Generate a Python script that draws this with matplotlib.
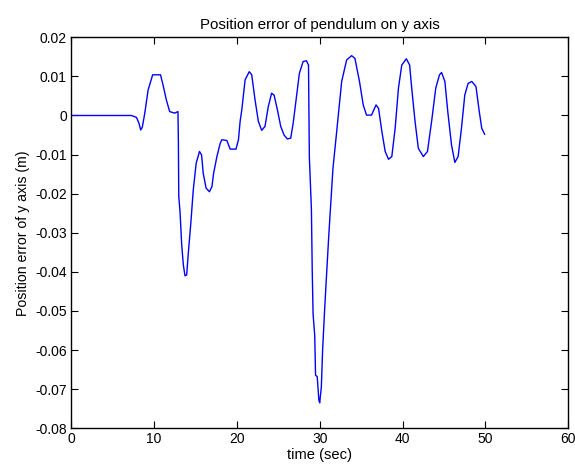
import matplotlib
matplotlib.use("Agg")
import matplotlib.pyplot as plt

# time (sec) and position error (m)
time_s = [0, 7.3, 7.9, 8.2, 8.4, 8.6, 8.9, 9.3, 9.85, 10.8, 11.1, 11.5, 11.9, 12.5,
          12.9, 12.95, 13.0, 13.15, 13.35, 13.55, 13.75, 13.95, 14.15, 14.45, 14.75,
          15.1, 15.5, 15.75, 15.95, 16.3, 16.7, 17.0, 17.2, 17.6, 18.0, 18.2, 18.8,
          19.2, 19.9, 20.2, 20.4, 20.6, 21.0, 21.5, 21.8, 22.2, 22.6, 23.0, 23.4,
          23.8, 24.2, 24.5, 24.9, 25.3, 25.7, 26.1, 26.5, 26.8, 27.15, 27.55, 28.0,
          28.4, 28.65, 28.75, 29.0, 29.1, 29.2, 29.4, 29.5, 29.7, 29.9, 30.0, 30.2,
          30.35, 30.6, 30.8, 31.1, 31.6, 32.05, 32.65, 33.25, 33.85, 34.25, 34.8,
          35.25, 35.65, 36.25, 36.8, 37.1, 37.5, 37.9, 38.3, 38.7, 39.1, 39.5, 39.9,
          40.45, 40.85, 41.1, 41.5, 41.9, 42.5, 43.0, 43.5, 44.0, 44.45, 44.7, 45.1,
          45.45, 45.9, 46.3, 46.7, 47.1, 47.5, 47.9, 48.35, 48.85, 49.25, 49.55, 49.9]
err_y = [0, 0, -0.0005, -0.002, -0.0037, -0.003, 0.0006, 0.0065, 0.0104, 0.0104,
         0.0078, 0.004, 0.001, 0.0006, 0.001, -0.0062, -0.0207, -0.0246, -0.033,
         -0.0382, -0.041, -0.0408, -0.0352, -0.0276, -0.019, -0.0122, -0.0092, -0.0101,
         -0.0148, -0.0186, -0.0195, -0.0182, -0.0148, -0.0105, -0.0071, -0.0062,
         -0.0064, -0.0086, -0.0086, -0.0062, -0.0015, 0.0014, 0.0091, 0.0112, 0.0104,
         0.004, -0.0015, -0.0038, -0.0028, 0.0023, 0.0057, 0.0052, 0.0014, -0.0028,
         -0.005, -0.006, -0.0058, -0.002, 0.004, 0.0108, 0.0138, 0.014, 0.0129,
         -0.0105, -0.024, -0.0397, -0.0507, -0.0563, -0.0664, -0.0668, -0.0728,
         -0.0735, -0.0694, -0.06, -0.0495, -0.0418, -0.0305, -0.0135, -0.0041, 0.0087,
         0.0142, 0.0153, 0.0146, 0.0087, 0.0027, 0.0001, 0.0001, 0.0027, 0.0018,
         -0.0041, -0.0092, -0.0112, -0.0105, -0.0033, 0.007, 0.0129, 0.0145, 0.0129,
         0.007, -0.0015, -0.0084, -0.0105, -0.0092, -0.0015, 0.007, 0.0104, 0.011,
         0.0087, 0.001, -0.0075, -0.012, -0.0105, -0.0033, 0.0052, 0.0082, 0.0087,
         0.0074, 0.001, -0.0033, -0.0048]

xticks = [0, 10, 20, 30, 40, 50, 60]
yticks = [-0.08, -0.07, -0.06, -0.05, -0.04, -0.03, -0.02, -0.01, 0, 0.01, 0.02]
ytick_labels = ['-0.08', '-0.07', '-0.06', '-0.05', '-0.04', '-0.03', '-0.02',
                '-0.01', '0', '0.01', '0.02']

plt.rcParams['font.family'] = ['Liberation Sans', 'DejaVu Sans']
plt.rcParams['font.size'] = 10

fig = plt.figure(figsize=(5.75, 4.69), dpi=100)
ax = fig.add_axes([0.1235, 0.0868, 0.865, 0.8337])

ax.plot(time_s, err_y, color='#0000ff', linewidth=1.0)

ax.set_xlim(0, 60)
ax.set_ylim(-0.08, 0.02)
ax.set_xticks(xticks)
ax.set_yticks(yticks)
ax.set_yticklabels(ytick_labels)
ax.tick_params(direction='in', top=True, right=True, length=5, width=0.8,
               labelsize=10, pad=3)
for sp in ax.spines.values():
    sp.set_linewidth(1.0)

ax.set_title('Position error of pendulum on y axis', fontsize=10.8, pad=6)
ax.set_xlabel('time (sec)', fontsize=10.6, labelpad=1)
ax.set_ylabel('Position error of y axis (m)', fontsize=10.2, labelpad=4)

fig.savefig('out.png', dpi=100, facecolor='white')
